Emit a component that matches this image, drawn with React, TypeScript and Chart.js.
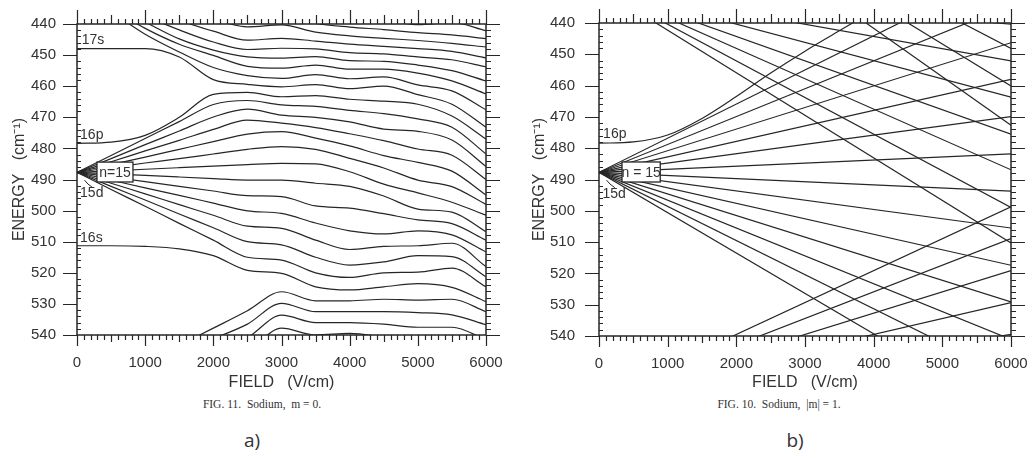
import React, { useEffect, useRef } from "react";
import { Chart, registerables } from "chart.js";

Chart.register(...registerables);

// ---------------- data ----------------
// Field sample points (V/cm) used by the m = 0 panel
const FIELD_GRID = [0, 500, 1000, 1500, 2000, 2500, 3000, 3500, 4000, 4500, 5000, 5500, 6000];
const X_TICKS = [0, 1000, 2000, 3000, 4000, 5000, 6000];
const Y_TICKS = [440, 450, 460, 470, 480, 490, 500, 510, 520, 530, 540];

// (a) Sodium m = 0 : levels coming in from above (n = 17, n = 16, 17s), energy in cm-1
const M0_UPPER = [
  [379.7, 388.0, 396.2, 404.5, 412.8, 421.1, 429.3, 436.5, 438.3, 438.8, 440.2, 439.5, 442.2],
  [428.7, 430.2, 431.6, 433.1, 434.5, 436.0, 437.0, 439.8, 441.0, 441.8, 442.8, 443.5, 444.7],
  [428.7, 431.2, 433.6, 436.0, 438.5, 440.9, 440.3, 442.6, 443.8, 444.6, 445.3, 446.2, 447.4],
  [428.7, 432.1, 435.5, 438.9, 442.3, 445.2, 444.6, 445.5, 446.5, 447.2, 447.9, 448.8, 450.9],
  [428.7, 433.1, 437.5, 441.9, 445.8, 448.2, 447.8, 448.0, 449.2, 449.6, 450.6, 451.5, 453.8],
  [428.7, 434.1, 439.4, 444.8, 448.4, 450.6, 451.0, 450.5, 451.8, 452.0, 453.2, 455.0, 458.3],
  [428.7, 435.0, 441.4, 446.5, 450.1, 453.6, 454.2, 453.2, 454.5, 454.5, 455.8, 458.3, 462.5],
  [428.7, 436.0, 443.3, 449.0, 454.0, 456.6, 457.5, 456.3, 457.6, 457.0, 459.6, 461.5, 467.6],
  [447.9, 447.9, 447.9, 450.6, 457.9, 459.4, 460.2, 459.5, 460.8, 460.0, 462.7, 465.8, 473.2],
];

// (a) the n = 15 manifold, with 16p on top and 16s below
const M0_MIDDLE = [
  [478.4, 478.0, 475.8, 470.0, 462.6, 462.0, 463.4, 463.0, 464.2, 464.8, 465.8, 469.6, 477.0],
  [487.7, 482.3, 476.8, 471.4, 465.9, 464.6, 466.0, 466.5, 467.8, 468.8, 470.5, 473.2, 481.8],
  [487.7, 483.3, 478.8, 474.4, 469.9, 467.4, 469.3, 470.0, 471.5, 473.8, 474.5, 477.3, 485.8],
  [487.7, 484.3, 480.8, 477.4, 473.9, 470.9, 471.9, 473.3, 475.3, 477.5, 480.2, 482.2, 490.0],
  [487.7, 485.2, 482.8, 480.3, 477.8, 475.4, 474.6, 476.7, 479.2, 482.3, 484.5, 487.3, 495.0],
  [487.7, 486.2, 484.7, 483.3, 481.8, 480.3, 479.4, 480.3, 483.2, 486.3, 490.2, 492.3, 498.0],
  [487.7, 487.2, 486.7, 486.2, 485.7, 485.2, 484.8, 485.0, 487.5, 491.5, 494.3, 497.3, 501.5],
  [487.7, 488.2, 488.7, 489.2, 489.7, 490.2, 490.2, 491.2, 492.2, 495.3, 499.5, 500.5, 506.8],
  [487.7, 489.2, 490.7, 492.2, 493.7, 495.2, 495.5, 498.5, 499.2, 501.0, 503.0, 504.2, 509.5],
  [487.7, 490.2, 492.7, 495.1, 497.6, 500.1, 500.9, 504.0, 506.5, 507.5, 506.5, 507.8, 513.3],
  [487.7, 491.2, 494.6, 498.1, 501.5, 505.0, 505.7, 509.5, 512.5, 511.5, 511.3, 510.5, 518.0],
  [487.7, 492.2, 496.6, 501.1, 505.5, 510.0, 511.0, 515.0, 517.5, 516.5, 514.5, 514.8, 521.3],
  [487.7, 493.2, 498.6, 504.1, 509.5, 515.0, 515.9, 520.0, 521.5, 520.0, 519.8, 518.5, 524.5],
  [511.3, 511.3, 511.5, 512.3, 514.5, 519.2, 520.2, 524.5, 525.5, 524.5, 523.5, 524.7, 529.3],
];

// (a) n = 14 levels rising from below
const M0_LOWER = [
  [559.9, 554.4, 548.8, 543.3, 537.8, 532.2, 526.1, 529.0, 529.0, 528.5, 528.8, 528.5, 532.5],
  [559.9, 555.2, 550.5, 545.8, 541.2, 536.5, 529.8, 532.5, 532.5, 532.5, 532.8, 533.5, 536.7],
  [559.9, 556.1, 552.2, 548.4, 544.6, 540.8, 533.6, 536.0, 536.0, 536.5, 537.5, 537.5, 541.5],
  [559.9, 556.9, 553.9, 551.0, 548.0, 545.0, 537.8, 540.0, 539.5, 540.7, 542.2, 547.5, 553.0],
  [559.9, 557.8, 555.6, 553.5, 551.4, 549.3, 547.0, 545.0, 543.0, 545.7, 552.0, 558.6, 565.0],
];

// (b) Sodium |m| = 1 : Stark levels, energy at 0 V/cm and at 6000 V/cm
const M1_FIELD_ENDS = [0, 6000];
const M1_FAN = [
  [487.7, 422.3], [487.7, 434.3], [487.7, 446.3], [487.7, 458.0], [487.7, 469.9], [487.7, 481.8],
  [487.7, 493.7], [487.7, 505.5], [487.7, 517.4], [487.7, 529.1], [487.7, 541.1], [487.7, 553.1], [487.7, 565.1],
];
const M1_N16 = [
  [428.7, 510.3], [428.7, 498.9], [428.7, 486.9], [428.7, 475.5], [428.7, 463.7], [428.7, 452.1], [428.7, 440.4],
];
const M1_N17 = [[379.7, 472.7], [379.7, 460.1], [379.7, 448.1]];
const M1_N14 = [[559.9, 498.7], [559.9, 508.9], [559.9, 519.1], [559.9, 529.3], [559.9, 539.5]];
const M1_16P_FIELD = [0, 500, 1000, 1500, 2000, 2500, 3000, 3500, 4000];
const M1_16P = [478.4, 478.0, 475.8, 470.5, 463.5, 456.0, 449.0, 442.5, 436.0];

// ---------------- styles ----------------
const INK = "#262626";
const TEXT = "#333333";
const SANS = '"Liberation Sans", Arial, sans-serif';

function curve(xs: number[], ys: number[]) {
  return {
    data: xs.map((x, i) => ({ x, y: ys[i] })),
    borderColor: INK,
    borderWidth: 1.2,
    pointRadius: 0,
    fill: false,
    cubicInterpolationMode: "monotone" as const,
  };
}

const decorPlugin = {
  id: "starkDecor",
  afterDatasetsDraw(chart: any, _args: any, opts: any) {
    const { ctx, chartArea: a } = chart;
    const xs = chart.scales.x;
    const ys = chart.scales.y;
    ctx.save();
    ctx.strokeStyle = INK;
    ctx.lineWidth = 1.2;
    ctx.beginPath();
    for (let v = 0; v <= 6000; v += 100) {
      const p = Math.round(xs.getPixelForValue(v)) + 0.5;
      const major = v % 1000 === 0;
      const mid = v % 500 === 0;
      const up = major ? 14 : mid ? 9 : 5;
      const dn = major ? 11 : mid ? 7 : 5;
      ctx.moveTo(p, a.top);
      ctx.lineTo(p, a.top - up);
      ctx.moveTo(p, a.bottom);
      ctx.lineTo(p, a.bottom + dn);
    }
    for (let e = 440; e <= 540; e += 2) {
      const p = Math.round(ys.getPixelForValue(e)) + 0.5;
      if (e % 10 === 0) {
        ctx.moveTo(a.left - 14, p);
        ctx.lineTo(a.left, p);
        ctx.moveTo(a.right, p);
        ctx.lineTo(a.right + 14, p);
      } else {
        ctx.moveTo(a.left, p);
        ctx.lineTo(a.left + 4, p);
        ctx.moveTo(a.right, p);
        ctx.lineTo(a.right + 5, p);
      }
    }
    ctx.stroke();
    ctx.lineWidth = 1.5;
    ctx.strokeRect(a.left, a.top, a.right - a.left, a.bottom - a.top);

    // leader from the 15d label to the origin of the fan
    if (opts.leader) {
      const [p0, p1, p2] = opts.leader;
      ctx.lineWidth = 1;
      ctx.beginPath();
      ctx.moveTo(xs.getPixelForValue(p0[0]), ys.getPixelForValue(p0[1]));
      ctx.quadraticCurveTo(
        xs.getPixelForValue(p1[0]), ys.getPixelForValue(p1[1]),
        xs.getPixelForValue(p2[0]), ys.getPixelForValue(p2[1])
      );
      ctx.stroke();
    }

    ctx.fillStyle = TEXT;
    ctx.font = `14px ${SANS}`;
    ctx.textBaseline = "middle";
    ctx.textAlign = "left";
    for (const l of opts.labels || []) {
      ctx.fillText(l.text, xs.getPixelForValue(l.f), ys.getPixelForValue(l.e));
    }
    if (opts.box) {
      const b = opts.box;
      const x0 = xs.getPixelForValue(b.f0);
      const x1 = xs.getPixelForValue(b.f1);
      const y0 = ys.getPixelForValue(b.e0);
      const y1 = ys.getPixelForValue(b.e1);
      ctx.fillStyle = "#ffffff";
      ctx.fillRect(x0, y0, x1 - x0, y1 - y0);
      ctx.lineWidth = 1.3;
      ctx.strokeRect(x0, y0, x1 - x0, y1 - y0);
      ctx.fillStyle = TEXT;
      ctx.textAlign = "center";
      ctx.fillText(b.text, (x0 + x1) / 2, (y0 + y1) / 2 + 1);
    }
    ctx.restore();
  },
};

type Area = { left: number; top: number; right: number; bottom: number };

function StarkCanvas(props: {
  left: number;
  width: number;
  height: number;
  area: Area;
  yPad: number;
  datasets: any[];
  decor: any;
}) {
  const ref = useRef<HTMLCanvasElement | null>(null);
  useEffect(() => {
    const canvas = ref.current;
    if (!canvas) return;
    const { width: W, height: H, area } = props;
    const tickFont = { family: SANS, size: 15 };
    const chart = new Chart(canvas, {
      type: "line",
      data: { datasets: props.datasets },
      plugins: [decorPlugin],
      options: {
        animation: false,
        responsive: false,
        maintainAspectRatio: false,
        devicePixelRatio: 1,
        events: [],
        layout: { padding: { top: area.top, right: W - area.right, bottom: 0, left: 0 } },
        plugins: {
          legend: { display: false },
          tooltip: { enabled: false },
          starkDecor: props.decor,
        } as any,
        scales: {
          x: {
            type: "linear",
            min: 0,
            max: 6000,
            position: "bottom",
            afterBuildTicks: (s: any) => {
              s.ticks = X_TICKS.map((v) => ({ value: v }));
            },
            afterFit: (s: any) => {
              s.height = H - area.bottom;
              s.paddingLeft = 0;
              s.paddingRight = 0;
            },
            grid: { display: false, drawTicks: false },
            border: { display: false },
            ticks: {
              padding: 19,
              font: tickFont,
              color: TEXT,
              maxRotation: 0,
              autoSkip: false,
              callback: (v: any) => String(v),
            },
            title: {
              display: true,
              text: "FIELD   (V/cm)",
              font: { family: SANS, size: 16 },
              color: TEXT,
              padding: { top: 0, bottom: 0 },
            },
          },
          y: {
            type: "linear",
            min: 440,
            max: 540,
            reverse: true,
            position: "left",
            afterBuildTicks: (s: any) => {
              s.ticks = Y_TICKS.map((v) => ({ value: v }));
            },
            afterFit: (s: any) => {
              s.width = area.left;
              s.paddingTop = 0;
              s.paddingBottom = 0;
            },
            grid: { display: false, drawTicks: false },
            border: { display: false },
            ticks: {
              padding: props.yPad,
              font: tickFont,
              color: TEXT,
              autoSkip: false,
              callback: (v: any) => String(v),
            },
            title: {
              display: true,
              text: "ENERGY   (cm\u207B\u00B9)",
              font: { family: SANS, size: 16 },
              color: TEXT,
              padding: { top: 10, bottom: 0 },
            },
          },
        },
      } as any,
    });
    return () => chart.destroy();
  }, []);
  return (
    <canvas
      ref={ref}
      width={props.width}
      height={props.height}
      style={{ position: "absolute", left: props.left, top: 0, width: props.width, height: props.height }}
    />
  );
}

const DATASETS_A = [...M0_UPPER, ...M0_MIDDLE, ...M0_LOWER].map((r) => curve(FIELD_GRID, r));
const DATASETS_B = [...M1_FAN, ...M1_N16, ...M1_N17, ...M1_N14]
  .map((r) => curve(M1_FIELD_ENDS, r))
  .concat([curve(M1_16P_FIELD, M1_16P)]);

const DECOR_A = {
  labels: [
    { text: "17s", f: 70, e: 445.1 },
    { text: "16p", f: 45, e: 475.6 },
    { text: "15d", f: 45, e: 494.4 },
    { text: "16s", f: 45, e: 508.8 },
  ],
  leader: [[110, 490.2], [150, 491.5], [230, 492.6]],
  box: { f0: 293, f1: 821, e0: 484.4, e1: 490.8, text: "n=15" },
};

const DECOR_B = {
  labels: [
    { text: "16p", f: 60, e: 475.6 },
    { text: "15d", f: 50, e: 494.6 },
  ],
  leader: [[110, 490.2], [150, 491.5], [230, 492.6]],
  box: { f0: 335, f1: 892, e0: 484.4, e1: 490.8, text: "n = 15" },
};

const captionStyle: React.CSSProperties = {
  position: "absolute",
  transform: "translate(-50%, -50%)",
  fontFamily: '"Liberation Serif", "DejaVu Serif", serif',
  fontSize: 11.5,
  color: "#333",
  whiteSpace: "pre",
};
const letterStyle: React.CSSProperties = {
  position: "absolute",
  transform: "translate(-50%, -50%)",
  fontFamily: '"Open Sans", "Liberation Sans", sans-serif',
  fontSize: 19,
  color: "#333",
};

export default function App() {
  return (
    <div
      style={{
        position: "absolute",
        left: 0,
        top: 0,
        width: 1033,
        height: 458,
        background: "#ffffff",
        overflow: "hidden",
      }}
    >
      <StarkCanvas
        left={0}
        width={505}
        height={392}
        area={{ left: 77, top: 24, right: 486, bottom: 335 }}
        yPad={21}
        datasets={DATASETS_A}
        decor={DECOR_A}
      />
      <StarkCanvas
        left={520}
        width={513}
        height={392}
        area={{ left: 79, top: 23, right: 491, bottom: 336 }}
        yPad={24}
        datasets={DATASETS_B}
        decor={DECOR_B}
      />
      <div style={{ ...captionStyle, left: 262, top: 404 }}>FIG. 11.  Sodium,  m = 0.</div>
      <div style={{ ...captionStyle, left: 779, top: 404 }}>FIG. 10.  Sodium,  |m| = 1.</div>
      <div style={{ ...letterStyle, left: 252, top: 440 }}>a)</div>
      <div style={{ ...letterStyle, left: 795, top: 440 }}>b)</div>
    </div>
  );
}
